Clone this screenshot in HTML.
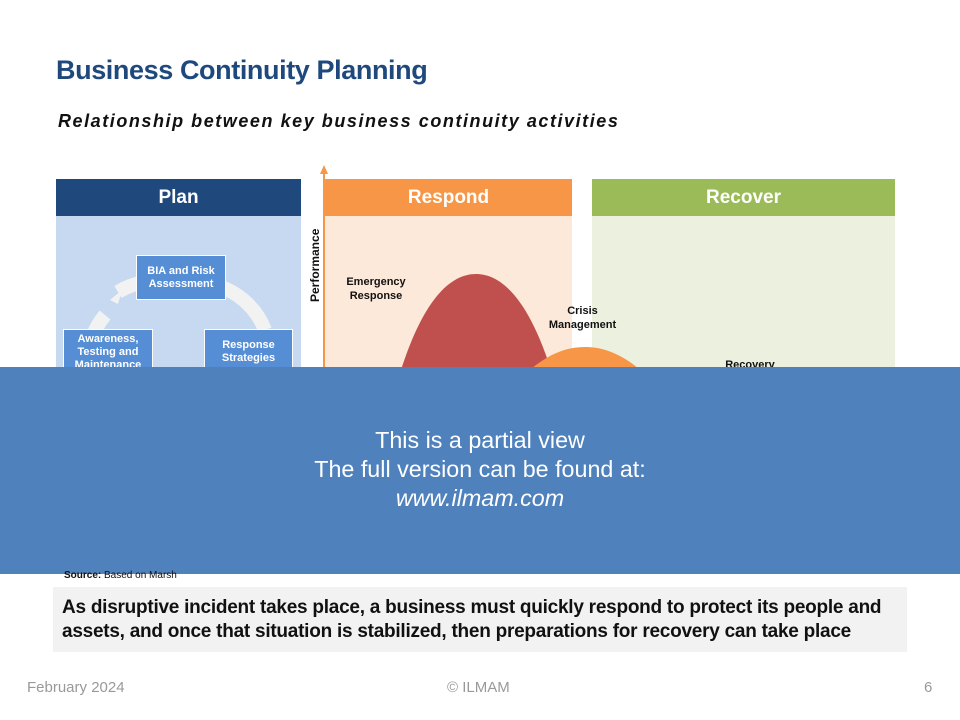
<!DOCTYPE html>
<html><head><meta charset="utf-8"><style>
body{margin:0;width:960px;height:720px;position:relative;background:#fff;font-family:"Liberation Sans",sans-serif;overflow:hidden}
.a{position:absolute}
.hd{position:absolute;top:179px;height:37px;color:#fff;font-weight:bold;font-size:19px;text-align:center;line-height:38px}
.bx{position:absolute;background:#558ed5;color:#fff;font-weight:bold;font-size:11px;text-align:center;line-height:13px;border:1px solid #fff;box-sizing:border-box}
.lb{position:absolute;font-weight:bold;font-size:11px;text-align:center;line-height:14px;color:#111}
</style></head><body>
<div class="a" style="left:56px;top:55px;font-size:27px;font-weight:bold;color:#1f497d;letter-spacing:-0.4px">Business Continuity Planning</div>
<div class="a" style="left:58px;top:111px;font-size:18px;font-weight:bold;font-style:italic;color:#111;letter-spacing:1.55px">Relationship between key business continuity activities</div>

<div class="a" style="left:56px;top:216px;width:245px;height:160px;background:#c6d9f1"></div>
<div class="hd" style="left:56px;width:245px;background:#1f497d">Plan</div>
<div class="a" style="left:325px;top:216px;width:247px;height:160px;background:#fde9d9"></div>
<div class="hd" style="left:325px;width:247px;background:#f79646">Respond</div>
<div class="a" style="left:592px;top:216px;width:303px;height:160px;background:#ebf1de"></div>
<div class="hd" style="left:592px;width:303px;background:#9bbb59">Recover</div>

<svg class="a" style="left:0;top:0" width="960" height="380">
<path d="M118 292 A75 75 0 0 1 170 282" stroke="#f2f2f2" stroke-width="14" fill="none"/>
<path d="M110 300 L122 290 L118 304 Z" fill="#f2f2f2"/>
<path d="M215 285 A75 75 0 0 1 265 330" stroke="#f2f2f2" stroke-width="14" fill="none"/>
<path d="M90 345 A75 75 0 0 1 105 315" stroke="#f2f2f2" stroke-width="14" fill="none"/>
<line x1="324" y1="172" x2="324" y2="380" stroke="#f79646" stroke-width="2"/>
<path d="M320 174 L324 165 L328 174 Z" fill="#f79646"/>
<path d="M395 390 C420 300 450 274 476 274 C502 274 532 300 557 390 Z" fill="#c0504d"/>
<path d="M510 390 C540 355 565 347 585 347 C605 347 630 355 660 390 Z" fill="#f79646"/>
<text transform="translate(319,302) rotate(-90)" font-family="Liberation Sans" font-size="12" font-weight="bold" fill="#111">Performance</text>
</svg>
<div class="bx" style="left:136px;top:255px;width:90px;height:45px;padding-top:9px">BIA and Risk Assessment</div>
<div class="bx" style="left:63px;top:329px;width:90px;height:50px;padding-top:3px">Awareness, Testing and Maintenance</div>
<div class="bx" style="left:204px;top:329px;width:89px;height:50px;padding-top:9px">Response Strategies</div>
<div class="lb" style="left:336px;top:275px;width:80px">Emergency Response</div>
<div class="lb" style="left:540px;top:304px;width:85px">Crisis Management</div>
<div class="lb" style="left:710px;top:358px;width:80px">Recovery</div>

<div class="a" style="left:0;top:367px;width:960px;height:207px;background:#4f81bd"></div>
<div class="a" style="left:0;top:426px;width:960px;text-align:center;color:#fff;font-size:23.3px;line-height:29px">This is a partial view<br>The full version can be found at:<br><i>www.ilmam.com</i></div>

<div class="a" style="left:64px;top:570px;font-size:10px;color:#111"><b>Source:</b> Based on Marsh</div>
<div class="a" style="left:53px;top:587px;width:854px;height:65px;background:#f2f2f2"></div>
<div class="a" style="left:62px;top:596px;font-size:19px;font-weight:bold;line-height:24px;color:#111;letter-spacing:-0.25px;white-space:nowrap">As disruptive incident takes place, a business must quickly respond to protect its people and<br>assets, and once that situation is stabilized, then preparations for recovery can take place</div>

<div class="a" style="left:27px;top:679px;font-size:15px;color:#999">February 2024</div>
<div class="a" style="left:447px;top:679px;font-size:15px;color:#999">© ILMAM</div>
<div class="a" style="left:924px;top:679px;font-size:15px;color:#999">6</div>
</body></html>
